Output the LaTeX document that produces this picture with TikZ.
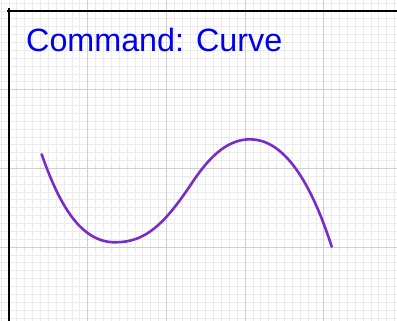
\documentclass[tikz,border=0pt]{standalone}
\usepackage{fontspec}
\setmainfont{Liberation Sans}
\usepackage{xcolor}
\usepackage{tikz}
\usetikzlibrary{arrows.meta,positioning}
\definecolor{curvepurple}{RGB}{120,45,200}
\definecolor{cmdblue}{RGB}{0,0,238}

\begin{document}
\begin{tikzpicture}[x=1pt,y=-1pt]
\tikzstyle{minorgrid}=[draw=black!8,line width=0.8pt]
\tikzstyle{majorgrid}=[draw=black!19,line width=0.9pt]
\tikzstyle{axisline}=[draw=black,line width=2.4pt]
\tikzstyle{curve}=[draw=curvepurple,line width=2.6pt,line cap=round,line join=round]
\useasboundingbox (0,0) rectangle (397,321);
% grid
\foreach \k in {-1,...,49} \draw[minorgrid] ({9+7.87*\k},0) -- ({9+7.87*\k},321);
\foreach \k in {-1,...,40} \draw[minorgrid] (0,{11+7.87*\k}) -- (397,{11+7.87*\k});
\foreach \k in {1,...,4} \draw[majorgrid] ({9+78.7*\k},0) -- ({9+78.7*\k},321);
\foreach \k in {1,...,3} \draw[majorgrid] (0,{11+78.7*\k}) -- (397,{11+78.7*\k});
% axes
\draw[axisline] (7,11) -- (397,11);
\draw[axisline] (9,8) -- (9,321);
\node[anchor=base west,inner sep=0pt,text=cmdblue,font=\fontsize{32.3}{39}\selectfont] (title) at (26,52) {Command: Curve};
% the curve
\draw[curve] (41.7,154.3) .. controls (58.7,203) and (80,242.3) .. (115,242.3)
  .. controls (145,242.3) and (163.7,225.3) .. (191.7,183.3)
  .. controls (206.7,160.8) and (225,139.3) .. (250,139.3)
  .. controls (280,139.3) and (307.7,172.3) .. (331.7,246.7);
\end{tikzpicture}
\end{document}
